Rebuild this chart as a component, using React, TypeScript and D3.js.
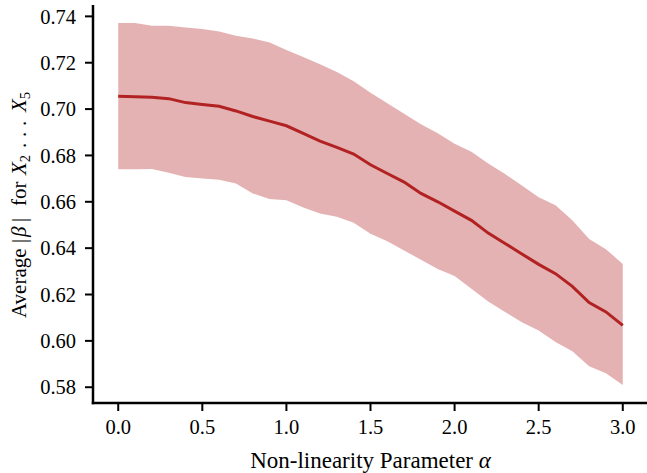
import React from 'react';
import * as d3 from 'd3';

// non-linearity parameter alpha, step 0.1
const alphas = [0, 0.1, 0.2, 0.3, 0.4, 0.5, 0.6, 0.7, 0.8, 0.9, 1.0, 1.1, 1.2, 1.3, 1.4, 1.5,
  1.6, 1.7, 1.8, 1.9, 2.0, 2.1, 2.2, 2.3, 2.4, 2.5, 2.6, 2.7, 2.8, 2.9, 3.0];
const meanBeta = [0.7055, 0.7053, 0.7051, 0.7045, 0.7028, 0.7020, 0.7012, 0.6992, 0.6968, 0.6948,
  0.6928, 0.6895, 0.6862, 0.6835, 0.6806, 0.6760, 0.6722, 0.6685, 0.6636, 0.6600,
  0.6560, 0.6520, 0.6465, 0.6420, 0.6375, 0.6330, 0.6290, 0.6235, 0.6165, 0.6125, 0.6067];
const upperBeta = [0.7371, 0.7371, 0.7360, 0.7359, 0.7352, 0.7345, 0.7335, 0.7316, 0.7305, 0.7287,
  0.7255, 0.7225, 0.7193, 0.7160, 0.7120, 0.7070, 0.7025, 0.6980, 0.6935, 0.6896,
  0.6850, 0.6816, 0.6765, 0.6720, 0.6670, 0.6620, 0.6585, 0.6520, 0.6440, 0.6395, 0.6332];
const lowerBeta = [0.6740, 0.6740, 0.6742, 0.6725, 0.6707, 0.6700, 0.6695, 0.6679, 0.6636, 0.6612,
  0.6607, 0.6575, 0.6549, 0.6535, 0.6510, 0.6462, 0.6430, 0.6390, 0.6350, 0.6310,
  0.6280, 0.6225, 0.6170, 0.6125, 0.6080, 0.6045, 0.5995, 0.5955, 0.5890, 0.5860, 0.5810];

const xTicks = [0, 0.5, 1.0, 1.5, 2.0, 2.5, 3.0];
const yTicks = [0.58, 0.60, 0.62, 0.64, 0.66, 0.68, 0.70, 0.72, 0.74];

const W = 647, H = 473;
const left = 93, right = 648, top = 5, bottom = 403;
const serif = { fontFamily: 'Liberation Serif, serif' };
const fs = 20.5;   // tick labels
const xfs = 23;    // x label
const yfs = 21;    // y label
const red = '#b22222';

export default function App() {
  const lo = d3.min(lowerBeta) as number;
  const hi = d3.max(upperBeta) as number;
  const pad = (hi - lo) * 0.05;

  const x = d3.scaleLinear().domain([-0.15, 3.15]).range([left, right]);
  const y = d3.scaleLinear().domain([lo - pad, hi + pad]).range([bottom, top]);

  const area = d3.area<number>()
    .x((d, i) => x(alphas[i]))
    .y0((d, i) => y(lowerBeta[i]))
    .y1((d, i) => y(upperBeta[i]));
  const line = d3.line<number>()
    .x((d, i) => x(alphas[i]))
    .y((d) => y(d));

  const fmtY = d3.format('.2f');
  const fmtX = d3.format('.1f');

  return (
    <svg width={W} height={H} style={{ position: 'absolute', left: 0, top: 0, ...serif }}>
      <rect width={W} height={H} fill="white" />
      <path d={area(meanBeta) || ''} fill={red} fillOpacity={0.35} />
      <path d={line(meanBeta) || ''} fill="none" stroke={red} strokeWidth={3} />

      {/* spines */}
      <line x1={left} x2={left} y1={top} y2={bottom + 1.25} stroke="black" strokeWidth={2.5} />
      <line x1={left - 1.25} x2={right} y1={bottom} y2={bottom} stroke="black" strokeWidth={2.5} />

      {yTicks.map((t) => (
        <g key={t}>
          <line x1={left - 8} x2={left} y1={y(t)} y2={y(t)} stroke="black" strokeWidth={2} />
          <text x={left - 17} y={y(t)} dy="0.35em" textAnchor="end" fontSize={fs} style={serif}>{fmtY(t)}</text>
        </g>
      ))}
      {xTicks.map((t) => (
        <g key={t}>
          <line x1={x(t)} x2={x(t)} y1={bottom} y2={bottom + 8} stroke="black" strokeWidth={2} />
          <text x={x(t)} y={bottom + 31} textAnchor="middle" fontSize={fs} style={serif}>{fmtX(t)}</text>
        </g>
      ))}

      <text x={(left + right) / 2} y={468} textAnchor="middle" fontSize={xfs} style={serif}>
        Non-linearity Parameter <tspan fontStyle="italic">α</tspan>
      </text>

      {/* y label, laid out piece by piece along the rotated baseline */}
      <text transform="translate(26,0) rotate(-90)" fontSize={yfs} style={serif}>
        <tspan x={-318}>Average</tspan>
        <tspan x={-243}>|</tspan>
        <tspan x={-237} fontStyle="italic">β</tspan>
        <tspan x={-222}>|</tspan>
        <tspan x={-206}>for</tspan>
        <tspan x={-175} fontStyle="italic">X</tspan>
        <tspan fontSize={yfs * 0.7} dy={4}>2</tspan>
        <tspan x={-148} dy={-4}>.</tspan>
        <tspan x={-137}>.</tspan>
        <tspan x={-126}>.</tspan>
        <tspan x={-112} fontStyle="italic">X</tspan>
        <tspan fontSize={yfs * 0.7} dy={4}>5</tspan>
      </text>
    </svg>
  );
}
